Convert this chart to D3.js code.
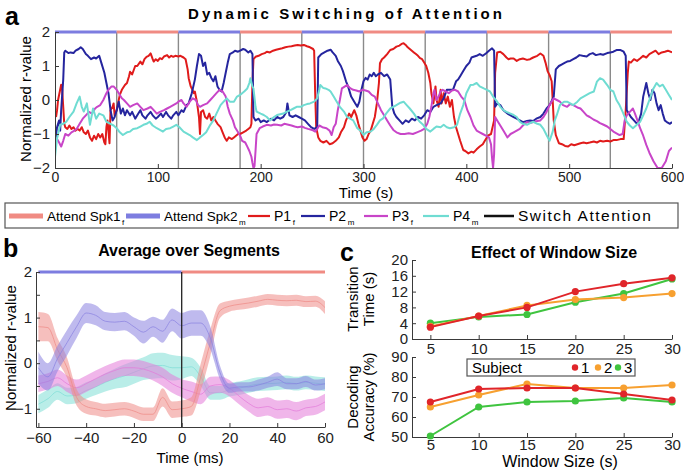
<!DOCTYPE html>
<html>
<head>
<meta charset="utf-8">
<script src="https://cdn.jsdelivr.net/npm/d3@7"></script>
<style>
  body { margin: 0; background: #fff; }
  svg { font-family: "Liberation Sans", Arial, Helvetica, sans-serif; }
</style>
</head>
<body>
<svg id="fig" width="684" height="470"></svg>
<script>
// ---------- Panel a: dynamic switching, r-values over time ----------
const switchTimes = [60, 120, 180, 240, 300, 360, 420, 480, 540];
const segStarts = [0, 60, 120, 180, 240, 300, 360, 420, 480, 540];
const segSpeaker = [2, 1, 2, 1, 2, 1, 2, 1, 2, 1];
const timeTicks = [0, 100, 200, 300, 400, 500, 600];
const rTicks = [-2, -1, 0, 1, 2];

const p1f = [[1,-0.5],[2,-0.3],[3,0.0],[5,0.3],[6,0.45],[7,0.3],[8,-0.2],[9,-0.7],[10,-0.8],[12,-0.85],[14,-0.75],[16,-0.85],[18,-0.8],[20,-0.9],[22,-0.85],[24,-0.9],[26,-0.8],[28,-0.95],[30,-1.0],[32,-0.9],[34,-1.1],[36,-1.2],[38,-1.05],[40,-1.15],[42,-1.0],[44,-1.1],[46,-1.0],[48,-1.25],[49,-1.3],[50,-0.8],[51,-0.6],[52,-0.9],[53,-1.27],[54,-0.3],[56,-0.2],[57,-0.1],[58,-0.45],[60,-0.3],[62,0.0],[63,0.15],[65,0.3],[68,0.44],[70,0.5],[72,0.7],[73,0.83],[75,0.75],[78,1.0],[80,1.0],[83,1.13],[85,1.05],[87,1.2],[89,1.27],[91,1.3],[93,1.37],[95,1.2],[96,1.13],[98,1.2],[100,1.15],[102,1.23],[104,1.2],[106,1.28],[109,1.32],[111,1.25],[113,1.3],[115,1.27],[117,1.3],[120,1.28],[122,1.3],[125,1.25],[127,1.2],[129,0.9],[130,0.64],[132,0.4],[133,0.34],[135,0.2],[136,0.25],[138,-0.05],[140,-0.5],[141,-1.0],[142,-0.35],[144,-0.3],[146,-0.5],[148,-0.55],[150,-0.4],[152,-0.6],[154,-0.5],[156,-0.6],[158,-0.7],[161,-0.8],[163,-0.95],[165,-1.1],[167,-1.2],[169,-1.1],[172,-1.15],[174,-1.1],[176,-1.05],[178,-1.0],[180,-1.0],[183,-0.95],[186,-0.9],[188,-0.85],[190,-0.8],[191,-0.7],[192,0.5],[193,1.2],[195,1.27],[198,1.3],[201,1.35],[204,1.38],[206,1.42],[209,1.4],[212,1.45],[215,1.48],[218,1.5],[221,1.52],[224,1.55],[227,1.57],[230,1.58],[233,1.6],[236,1.62],[239,1.6],[242,1.62],[245,1.58],[248,1.55],[251,1.5],[252,1.45],[253,0.2],[254,-0.8],[256,-1.1],[258,-1.2],[261,-1.25],[264,-1.2],[267,-1.3],[270,-1.27],[273,-1.2],[276,-1.1],[278,-0.95],[281,-0.8],[283,-0.6],[286,-0.4],[288,-0.5],[291,-0.3],[293,-0.45],[295,-0.7],[297,-0.9],[299,-1.1],[301,-1.2],[303,-1.15],[305,-1.0],[307,-0.9],[309,-0.7],[311,-0.5],[313,-0.1],[315,0.5],[316,1.08],[318,1.2],[320,1.25],[323,1.35],[326,1.47],[329,1.5],[332,1.57],[335,1.6],[337,1.65],[339,1.67],[341,1.62],[343,1.55],[345,1.5],[347,1.45],[349,1.4],[351,1.35],[353,1.3],[355,1.23],[357,1.2],[359,1.1],[361,1.0],[363,0.8],[365,0.5],[366,0.2],[368,-0.1],[370,0.4],[371,0.0],[373,-0.2],[375,0.3],[376,-0.1],[378,0.2],[380,-0.1],[382,0.1],[384,-0.2],[386,0.0],[388,-0.5],[390,-0.8],[392,-1.0],[394,-1.2],[397,-1.47],[399,-1.5],[402,-1.57],[405,-1.52],[407,-1.55],[410,-1.45],[413,-1.37],[416,-1.3],[418,-1.2],[421,-1.05],[424,-1.0],[427,-0.6],[428,0.8],[430,1.4],[433,1.42],[436,1.35],[439,1.25],[441,1.2],[443,1.22],[446,1.22],[449,1.15],[452,1.2],[455,1.22],[459,1.18],[462,1.2],[465,1.25],[469,1.3],[472,1.37],[475,1.3],[477,1.1],[479,0.85],[481,0.73],[483,0.55],[485,-0.6],[487,-1.03],[490,-1.27],[493,-1.3],[496,-1.35],[499,-1.37],[502,-1.3],[505,-1.33],[508,-1.3],[511,-1.27],[514,-1.25],[517,-1.27],[520,-1.25],[524,-1.22],[527,-1.25],[530,-1.2],[533,-1.22],[537,-1.2],[540,-1.22],[543,-1.18],[546,-1.18],[550,-1.15],[553,-1.15],[555,-0.3],[557,0.8],[558,1.13],[560,1.1],[563,1.2],[566,1.15],[569,1.22],[572,1.3],[575,1.25],[578,1.35],[581,1.4],[584,1.45],[587,1.35],[590,1.4],[593,1.42],[596,1.45],[600,1.4]];

const p2m = [[0,-1.3],[2,-0.8],[4,-0.6],[5,-0.9],[6,-0.3],[8,0.6],[9,1.4],[10,1.45],[13,1.38],[15,1.4],[18,1.38],[20,1.45],[23,1.5],[25,1.55],[27,1.5],[30,1.35],[32,1.3],[35,1.2],[38,1.25],[40,1.22],[43,1.3],[45,1.1],[48,0.8],[50,0.5],[52,0.2],[54,-0.3],[56,-0.6],[58,-0.5],[60,-0.3],[62,-0.05],[64,-0.4],[66,-0.25],[68,-0.45],[70,-0.3],[73,-0.45],[75,-0.35],[78,-0.55],[80,-0.45],[83,-0.3],[85,-0.45],[88,-0.55],[90,-0.45],[93,-0.35],[95,-0.45],[98,-0.55],[100,-0.5],[103,-0.4],[105,-0.5],[108,-0.35],[110,-0.45],[113,-0.55],[115,-0.45],[118,-0.35],[120,-0.45],[123,-0.3],[125,-0.35],[128,-0.15],[130,-0.1],[133,0.2],[136,0.6],[138,1.0],[140,1.35],[142,1.3],[144,1.0],[146,1.1],[148,0.75],[150,0.8],[152,0.65],[154,0.55],[156,0.7],[158,0.4],[160,0.3],[162,0.25],[164,0.5],[166,0.8],[168,1.1],[170,1.35],[173,1.4],[175,1.45],[178,1.42],[180,1.45],[183,1.5],[185,1.48],[188,1.4],[190,1.45],[192,1.35],[193,-0.5],[195,-0.6],[198,-0.55],[200,-0.65],[203,-0.6],[206,-0.65],[210,-0.55],[213,-0.6],[216,-0.5],[219,-0.55],[222,-0.5],[225,-0.35],[226,-0.1],[228,-0.45],[231,-0.5],[234,-0.45],[237,-0.5],[240,-0.55],[243,-0.6],[246,-0.7],[249,-0.8],[252,-0.85],[255,-0.8],[256,1.25],[259,1.35],[262,1.4],[265,1.45],[268,1.48],[270,1.4],[273,1.3],[275,1.15],[278,1.0],[280,0.85],[283,0.55],[285,0.4],[288,0.1],[290,0.0],[292,-0.1],[294,-0.2],[296,-0.05],[298,0.3],[300,0.55],[302,0.65],[304,0.6],[306,0.75],[308,0.7],[310,0.8],[312,0.7],[314,0.75],[317,0.8],[320,0.7],[323,0.75],[326,0.6],[328,-0.2],[330,-0.4],[332,-0.5],[335,-0.6],[338,-0.7],[341,-0.6],[344,-0.65],[347,-0.55],[350,-0.6],[353,-0.5],[356,-0.55],[359,-0.45],[362,-0.3],[365,-0.35],[368,-0.2],[371,-0.15],[375,-0.1],[378,0.05],[381,0.3],[384,0.3],[387,0.3],[390,0.55],[392,0.6],[394,0.7],[397,0.85],[400,1.0],[403,1.1],[405,1.25],[407,1.27],[410,1.3],[413,1.35],[416,1.3],[419,1.37],[422,1.45],[425,1.52],[427,1.45],[428,-0.2],[430,-0.1],[433,-0.15],[436,-0.3],[440,-0.4],[443,-0.45],[446,-0.5],[449,-0.55],[452,-0.6],[455,-0.65],[459,-0.62],[462,-0.6],[465,-0.62],[468,-0.55],[472,-0.5],[475,-0.4],[478,-0.25],[481,-0.15],[485,0.1],[487,0.9],[490,1.0],[493,1.05],[496,1.1],[498,1.13],[501,1.15],[504,1.2],[507,1.25],[510,1.32],[513,1.3],[517,1.28],[520,1.35],[523,1.38],[526,1.32],[530,1.35],[533,1.33],[537,1.38],[540,1.4],[543,1.42],[546,1.47],[550,1.47],[553,1.42],[555,1.3],[556,-0.3],[558,-0.4],[560,-0.5],[563,-0.6],[566,-0.7],[568,-0.6],[570,-0.4],[572,0.1],[575,0.5],[577,0.2],[579,0.0],[581,0.3],[583,0.2],[585,-0.1],[587,-0.3],[589,-0.15],[591,-0.4],[593,-0.6],[595,-0.65],[598,-0.7],[600,-0.65]];

const p3f = [[0,-1.1],[2,-1.15],[4,-1.25],[6,-1.37],[8,-1.2],[10,-1.0],[13,-1.05],[16,-0.95],[19,-0.9],[21,-0.85],[24,-0.7],[27,-0.55],[30,-0.45],[33,-0.35],[36,-0.4],[39,-0.25],[41,-0.2],[44,-0.15],[47,0.0],[50,0.2],[52,0.3],[55,0.4],[57,0.4],[60,0.3],[62,0.2],[65,0.05],[67,0.0],[70,-0.1],[73,-0.2],[76,-0.15],[80,-0.1],[83,-0.2],[86,-0.3],[90,-0.25],[93,-0.2],[96,-0.3],[99,-0.4],[102,-0.35],[106,-0.3],[109,-0.25],[112,-0.2],[115,-0.15],[118,-0.1],[120,-0.05],[123,0.0],[125,-0.1],[128,-0.2],[131,-0.05],[134,0.05],[137,0.0],[139,-0.15],[141,-0.2],[144,-0.15],[148,-0.1],[151,0.0],[154,0.1],[157,0.2],[160,0.3],[163,0.25],[166,0.1],[168,-0.2],[170,-0.4],[173,-0.6],[175,-0.8],[177,-0.9],[180,-1.05],[182,-1.2],[185,-1.25],[187,-1.37],[189,-1.5],[191,-1.67],[192,-1.85],[193,-2.0],[194,-1.95],[195,-1.5],[196,-1.0],[199,-0.83],[202,-0.78],[206,-0.73],[210,-0.75],[213,-0.72],[216,-0.73],[220,-0.75],[223,-0.7],[226,-0.72],[230,-0.75],[233,-0.78],[236,-0.8],[240,-0.78],[243,-0.82],[246,-0.85],[250,-0.88],[253,-0.93],[255,-0.85],[257,-0.75],[260,-0.8],[264,-0.83],[267,-0.9],[269,-1.03],[271,-0.8],[273,-0.7],[275,-0.3],[277,0.0],[279,0.34],[282,0.4],[284,0.44],[287,0.35],[290,0.3],[293,0.28],[296,0.25],[299,0.3],[302,0.28],[305,0.25],[308,0.15],[311,0.1],[314,-0.1],[317,-0.3],[320,-0.45],[323,-0.6],[326,-0.75],[329,-0.88],[332,-0.95],[336,-1.0],[340,-1.0],[344,-0.98],[348,-1.0],[352,-0.95],[356,-0.9],[359,-0.85],[362,-0.7],[364,-0.5],[366,-0.2],[368,0.2],[369,0.3],[371,0.0],[373,0.1],[375,0.25],[377,0.3],[380,0.25],[383,0.2],[386,0.28],[389,0.3],[392,0.25],[395,0.1],[398,0.0],[401,-0.3],[404,-0.5],[407,-0.75],[410,-0.9],[413,-0.95],[416,-1.0],[419,-1.05],[422,-1.1],[424,-1.3],[425,-1.7],[426,-2.0],[427,-1.6],[428,-0.5],[430,-0.6],[433,-0.75],[436,-0.9],[440,-1.1],[443,-1.0],[446,-0.95],[449,-0.9],[452,-0.85],[455,-0.75],[459,-0.65],[462,-0.68],[465,-0.65],[469,-0.62],[472,-0.6],[475,-0.5],[478,-0.35],[481,-0.15],[485,0.05],[488,0.0],[491,-0.05],[494,-0.15],[498,-0.2],[501,-0.12],[504,-0.15],[508,-0.22],[511,-0.25],[514,-0.35],[517,-0.45],[520,-0.5],[524,-0.58],[527,-0.62],[530,-0.68],[533,-0.72],[537,-0.78],[540,-0.85],[543,-0.93],[546,-0.98],[549,-1.03],[552,-1.0],[554,-0.6],[556,-0.45],[559,-0.35],[562,-0.25],[564,-0.4],[567,-0.65],[569,-0.83],[572,-1.05],[575,-1.32],[578,-1.55],[582,-1.8],[586,-2.0],[590,-2.0],[594,-1.8],[597,-1.5],[600,-1.4]];

const p4m = [[0,-1.67],[2,-1.13],[5,-0.73],[8,-0.7],[11,-0.64],[14,-0.5],[18,-0.34],[21,-0.1],[24,0.1],[26,-0.2],[28,-0.34],[31,-0.1],[34,-0.73],[37,-0.25],[40,-0.55],[43,-0.4],[47,-0.45],[50,-0.64],[54,-0.7],[57,-0.75],[60,-0.83],[63,-0.95],[66,-1.03],[70,-0.95],[73,-0.93],[76,-0.85],[80,-0.83],[83,-0.78],[86,-0.73],[89,-0.7],[92,-0.64],[95,-0.75],[99,-0.83],[102,-0.88],[105,-0.93],[108,-0.85],[112,-0.83],[115,-0.78],[118,-0.73],[121,-0.8],[125,-0.93],[128,-0.98],[131,-1.03],[134,-1.1],[138,-1.18],[141,-1.1],[144,-1.03],[147,-0.95],[151,-0.73],[154,-0.6],[157,-0.4],[161,-0.15],[164,-0.05],[167,0.05],[170,-0.05],[174,-0.05],[177,0.1],[180,0.15],[184,0.25],[187,0.34],[189,0.5],[190,0.64],[192,0.4],[193,0.34],[195,-0.2],[196,-0.34],[200,-0.4],[203,-0.44],[206,-0.5],[209,-0.6],[213,-0.5],[216,-0.44],[219,-0.42],[222,-0.4],[225,-0.35],[229,-0.3],[232,-0.25],[235,-0.2],[239,-0.2],[242,-0.15],[245,-0.12],[248,-0.1],[252,-0.05],[255,0.05],[257,0.3],[258,0.44],[261,0.35],[263,0.34],[266,0.3],[268,0.25],[271,0.1],[274,-0.05],[277,-0.2],[281,-0.34],[284,-0.5],[287,-0.55],[290,-0.6],[294,-0.83],[297,-0.9],[300,-1.03],[303,-0.95],[307,-0.93],[310,-0.85],[313,-0.73],[316,-0.6],[319,-0.54],[322,-0.4],[326,-0.25],[329,-0.2],[332,-0.15],[336,-0.08],[339,-0.05],[342,-0.15],[345,-0.25],[349,-0.4],[352,-0.54],[355,-0.65],[358,-0.73],[361,-0.85],[365,-0.93],[368,-0.85],[371,-0.78],[375,-0.8],[378,-0.73],[381,-0.8],[384,-0.83],[388,-0.8],[391,-0.73],[394,-0.4],[397,-0.15],[400,0.2],[404,0.44],[407,0.45],[410,0.5],[413,0.4],[417,0.34],[420,0.3],[423,0.25],[426,0.1],[430,-0.05],[433,-0.2],[436,-0.3],[439,-0.35],[443,-0.4],[446,-0.44],[449,-0.5],[452,-0.64],[455,-0.7],[459,-0.73],[462,-0.68],[465,-0.64],[469,-0.7],[472,-0.73],[475,-0.85],[478,-1.03],[481,-1.2],[484,-0.93],[486,-0.6],[488,-0.44],[491,-0.15],[495,-0.05],[498,-0.05],[501,-0.1],[504,-0.15],[508,-0.05],[511,0.05],[514,0.1],[517,0.15],[520,0.2],[524,0.25],[527,0.54],[530,0.64],[533,0.6],[537,0.44],[540,0.3],[543,0.25],[546,0.0],[549,-0.15],[552,-0.35],[556,-0.64],[559,-0.75],[562,-0.83],[565,-0.75],[569,-0.64],[572,-0.45],[575,-0.25],[578,0.0],[582,0.34],[585,0.5],[588,0.4],[591,0.45],[594,0.3],[597,0.15],[600,0.0]];

// ---------- Panel b: average over segments (mean +/- error) ----------
const bTime = [-60,-56,-52,-48,-44,-40,-36,-32,-28,-24,-20,-16,-12,-8,-4,0,4,8,12,16,20,24,28,32,36,40,44,48,52,56,60];
const bTicksX = [-60, -40, -20, 0, 20, 40, 60];
const bTicksY = [-1, -0.5, 0, 0.5, 1, 1.5, 2];
const bP1Mean = [0.8,0.78,0.3,-0.1,-0.75,-0.95,-1.0,-1.04,-1.02,-1.0,-1.05,-1.12,-1.12,-0.75,-1.02,-1.0,-0.95,-0.3,0.45,1.15,1.25,1.29,1.32,1.36,1.4,1.38,1.37,1.38,1.35,1.36,1.22];
const bP1Err  = [0.32,0.3,0.25,0.22,0.18,0.16,0.15,0.15,0.15,0.15,0.15,0.15,0.15,0.2,0.18,0.18,0.2,0.3,0.3,0.16,0.12,0.12,0.12,0.12,0.12,0.12,0.12,0.12,0.12,0.12,0.14];
const bP2Mean = [-0.1,-0.3,0.1,0.45,0.8,1.1,1.05,0.92,0.9,0.92,0.8,0.68,0.8,0.7,0.95,0.82,0.88,0.88,0.55,-0.2,-0.55,-0.52,-0.52,-0.48,-0.42,-0.35,-0.45,-0.45,-0.4,-0.48,-0.45];
const bP2Err  = [0.35,0.3,0.28,0.28,0.25,0.22,0.22,0.2,0.2,0.2,0.2,0.25,0.22,0.25,0.25,0.28,0.28,0.28,0.25,0.15,0.1,0.1,0.1,0.12,0.12,0.15,0.12,0.12,0.12,0.12,0.12];
const bP3Mean = [-0.45,-0.4,-0.32,-0.45,-0.54,-0.45,-0.34,-0.24,-0.16,-0.1,-0.1,-0.13,-0.2,-0.3,-0.45,-0.55,-0.62,-0.68,-0.5,-0.47,-0.55,-0.72,-0.88,-0.98,-0.95,-1.02,-1.0,-1.05,-0.98,-0.95,-0.85];
const bP3Err  = [0.18,0.18,0.18,0.18,0.18,0.18,0.18,0.18,0.18,0.18,0.18,0.18,0.18,0.2,0.2,0.2,0.22,0.22,0.2,0.18,0.18,0.18,0.18,0.2,0.2,0.2,0.2,0.2,0.18,0.18,0.18];
const bP4Mean = [-0.9,-0.78,-0.62,-0.72,-0.7,-0.6,-0.52,-0.42,-0.34,-0.28,-0.2,-0.12,-0.06,-0.05,-0.1,-0.1,-0.08,-0.3,-0.65,-0.65,-0.58,-0.55,-0.5,-0.46,-0.45,-0.44,-0.42,-0.45,-0.42,-0.44,-0.46];
const bP4Err  = [0.2,0.2,0.18,0.18,0.18,0.18,0.18,0.2,0.22,0.25,0.25,0.25,0.28,0.28,0.28,0.25,0.2,0.2,0.15,0.15,0.15,0.15,0.15,0.15,0.15,0.15,0.15,0.15,0.15,0.15,0.15];

// ---------- Panel c: effect of window size ----------
const winSizes = [5, 10, 15, 20, 25, 30];
const transS1 = [3.0, 5.8, 8.0, 12.0, 14.0, 15.5];
const transS2 = [3.2, 5.8, 8.5, 10.0, 10.5, 11.5];
const transS3 = [4.0, 5.6, 6.2, 9.3, 11.5, 15.2];
const accS1 = [67.5, 74.0, 74.5, 74.5, 71.5, 68.5];
const accS2 = [65.0, 71.0, 76.5, 74.5, 74.5, 76.0];
const accS3 = [50.5, 65.0, 67.5, 68.0, 69.5, 67.5];
const transTicks = [0, 4, 8, 12, 16, 20];
const accTicks = [50, 60, 70, 80, 90];
const subjects = ["1", "2", "3"];

// colours
const cP1 = "#e01b1b", cP2 = "#25259e", cP3 = "#c845c8", cP4 = "#6fdcd2";
const cSpk1 = "#f08b83", cSpk2 = "#7d7de0";
const bandP1 = "#ee8a86", bandP2 = "#8a82e0", bandP3 = "#e37ad9", bandP4 = "#7fded6";
const subjColors = ["#e0252a", "#f7a030", "#3fc43f"];
const axisColor = "#3a3a3a";

const svg = d3.select("#fig");
const intFmt = d3.format("d");

function styleAxis(g, fs) {
  g.selectAll(".domain").attr("stroke", axisColor).attr("stroke-width", 1);
  g.selectAll(".tick line").attr("stroke", axisColor);
  g.selectAll(".tick text").attr("font-size", fs).attr("fill", "#222")
    .attr("font-family", "'Liberation Sans', Arial, sans-serif");
}

// ===== Panel a =====
const xA = d3.scaleLinear().domain([0, 600]).range([55, 672]);
const yA = d3.scaleLinear().domain([-2, 2]).range([168, 32]);
const gA = svg.append("g");

gA.append("defs").append("clipPath").attr("id", "clipA")
  .append("rect").attr("x", xA(0)).attr("y", yA(2) - 2)
  .attr("width", xA(600) - xA(0)).attr("height", yA(-2) - yA(2) + 2);

// switch markers
gA.selectAll("line.sw").data(switchTimes).enter().append("line")
  .attr("x1", d => xA(d)).attr("x2", d => xA(d))
  .attr("y1", yA(2)).attr("y2", yA(-2))
  .attr("stroke", "#8a8a8a").attr("stroke-width", 1.4);

const lineA = d3.line().x(d => xA(d[0])).y(d => yA(d[1]));
const seriesA = [[p1f, cP1], [p2m, cP2], [p3f, cP3], [p4m, cP4]];
const linesA = gA.append("g").attr("clip-path", "url(#clipA)");
seriesA.forEach(([data, col]) => {
  linesA.append("path").datum(data).attr("d", lineA)
    .attr("fill", "none").attr("stroke", col).attr("stroke-width", 2)
    .attr("stroke-linejoin", "round");
});

// attended speaker bar along the top
gA.selectAll("line.seg").data(segStarts).enter().append("line")
  .attr("x1", d => xA(d)).attr("x2", d => xA(d + 60))
  .attr("y1", yA(2)).attr("y2", yA(2))
  .attr("stroke", (d, i) => segSpeaker[i] === 1 ? cSpk1 : cSpk2)
  .attr("stroke-width", 3);

gA.append("g").attr("transform", `translate(0,${yA(-2)})`)
  .call(d3.axisBottom(xA).tickValues(timeTicks).tickFormat(intFmt).tickSizeInner(-4).tickSizeOuter(0).tickPadding(4))
  .call(g => styleAxis(g, 14));
gA.append("g").attr("transform", `translate(${xA(0)},0)`)
  .call(d3.axisLeft(yA).tickValues(rTicks).tickFormat(intFmt).tickSizeInner(-4).tickSizeOuter(0).tickPadding(5))
  .call(g => styleAxis(g, 15));

svg.append("text").attr("x", 345).attr("y", 19).attr("text-anchor", "middle")
  .attr("font-size", 15).attr("font-weight", "bold")
  .attr("textLength", 314).attr("lengthAdjust", "spacing")
  .text("Dynamic Switching of Attention");
svg.append("text").attr("x", 5).attr("y", 25).attr("font-size", 25).attr("font-weight", "bold").text("a");
svg.append("text").attr("transform", "translate(31,99) rotate(-90)").attr("text-anchor", "middle")
  .attr("font-size", 15).text("Normalized r-value");
svg.append("text").attr("x", 366).attr("y", 198).attr("text-anchor", "middle")
  .attr("font-size", 15).text("Time (s)");

// ===== Legend =====
const leg = svg.append("g");
leg.append("rect").attr("x", 5).attr("y", 203).attr("width", 673).attr("height", 25)
  .attr("fill", "#fff").attr("stroke", "#555").attr("stroke-width", 1.2);
const legItems = [
  { x: 9,   len: 34, col: cSpk1, w: 5,   label: "Attend Spk1", sub: "f", fs: 13.5, ls: 0 },
  { x: 126, len: 34, col: cSpk2, w: 5,   label: "Attend Spk2", sub: "m", fs: 13.5, ls: 0 },
  { x: 248, len: 22, col: cP1,   w: 2.2, label: "P1", sub: "f", fs: 14, ls: 0 },
  { x: 301, len: 24, col: cP2,   w: 2.2, label: "P2", sub: "m", fs: 14, ls: 0 },
  { x: 364, len: 24, col: cP3,   w: 2.2, label: "P3", sub: "f", fs: 14, ls: 0 },
  { x: 423, len: 26, col: cP4,   w: 2.2, label: "P4", sub: "m", fs: 14, ls: 0 },
  { x: 484, len: 30, col: "#111", w: 2.5, label: "Switch Attention", sub: "", fs: 15.5, ls: 1.5 }
];
legItems.forEach(it => {
  leg.append("line").attr("x1", it.x).attr("x2", it.x + it.len)
    .attr("y1", 216).attr("y2", 216).attr("stroke", it.col).attr("stroke-width", it.w);
  const tx = it.x + it.len + 4;
  const t = leg.append("text").attr("x", tx).attr("y", 221).attr("font-size", it.fs)
    .style("letter-spacing", it.ls + "px").text(it.label);
  if (it.sub) {
    const w = t.node().getComputedTextLength();
    leg.append("text").attr("x", tx + w + 1.5).attr("y", 225).attr("font-size", 8).text(it.sub);
  }
});

// ===== Panel b =====
const xB = d3.scaleLinear().domain([-61, 60]).range([36, 325]);
const yB = d3.scaleLinear().domain([-1.4, 2]).range([427, 272]);
const gB = svg.append("g");

const bandSeries = [
  [bP4Mean, bP4Err, bandP4],
  [bP3Mean, bP3Err, bandP3],
  [bP1Mean, bP1Err, bandP1],
  [bP2Mean, bP2Err, bandP2]
];
bandSeries.forEach(([m, e, col]) => {
  const rows = bTime.map((t, i) => ({ t, m: m[i], e: e[i] }));
  gB.append("path").datum(rows)
    .attr("d", d3.area().x(d => xB(d.t)).y0(d => yB(d.m - d.e)).y1(d => yB(d.m + d.e)).curve(d3.curveMonotoneX))
    .attr("fill", col).attr("fill-opacity", 0.55);
  gB.append("path").datum(rows)
    .attr("d", d3.line().x(d => xB(d.t)).y(d => yB(d.m)).curve(d3.curveMonotoneX))
    .attr("fill", "none").attr("stroke", col).attr("stroke-width", 0.8).attr("stroke-opacity", 0.9);
});

gB.append("line").attr("x1", xB(-60)).attr("x2", xB(0)).attr("y1", yB(2)).attr("y2", yB(2))
  .attr("stroke", cSpk2).attr("stroke-width", 3);
gB.append("line").attr("x1", xB(0)).attr("x2", xB(60)).attr("y1", yB(2)).attr("y2", yB(2))
  .attr("stroke", cSpk1).attr("stroke-width", 3);
gB.append("line").attr("x1", xB(0)).attr("x2", xB(0)).attr("y1", yB(2)).attr("y2", yB(-1.4))
  .attr("stroke", "#222").attr("stroke-width", 1.3);

gB.append("g").attr("transform", `translate(0,${yB(-1.4)})`)
  .call(d3.axisBottom(xB).tickValues(bTicksX).tickFormat(intFmt).tickSizeInner(-4).tickSizeOuter(0).tickPadding(5))
  .call(g => styleAxis(g, 15));
gB.append("g").attr("transform", `translate(${xB(-61)},0)`)
  .call(d3.axisLeft(yB).tickValues(bTicksY).tickSizeInner(-4).tickSizeOuter(0).tickPadding(4)
    .tickFormat(d => Number.isInteger(d) ? intFmt(d) : ""))
  .call(g => styleAxis(g, 15));

svg.append("text").attr("x", 189).attr("y", 256).attr("text-anchor", "middle")
  .attr("font-size", 16).attr("font-weight", "bold").text("Average over Segments");
svg.append("text").attr("x", 3).attr("y", 257).attr("font-size", 25).attr("font-weight", "bold").text("b");
svg.append("text").attr("transform", "translate(16,348) rotate(-90)").attr("text-anchor", "middle")
  .attr("font-size", 15).text("Normalized r-value");
svg.append("text").attr("x", 190).attr("y", 463).attr("text-anchor", "middle")
  .attr("font-size", 15).text("Time (ms)");

// ===== Panel c =====
const xC = d3.scaleLinear().domain([3.1, 30]).range([412, 672]);
const yT = d3.scaleLinear().domain([0, 20]).range([339, 260]);
const yAcc = d3.scaleLinear().domain([50, 90]).range([437, 357]);
const gC = svg.append("g");

gC.append("g").attr("transform", `translate(0,${yT(0)})`)
  .call(d3.axisBottom(xC).tickValues(winSizes).tickFormat(intFmt).tickSizeInner(-4).tickSizeOuter(0).tickPadding(4))
  .call(g => styleAxis(g, 15));
gC.append("g").attr("transform", `translate(${xC(3.1)},0)`)
  .call(d3.axisLeft(yT).tickValues(transTicks).tickFormat(intFmt).tickSizeInner(-4).tickSizeOuter(0).tickPadding(4))
  .call(g => styleAxis(g, 15));
gC.append("g").attr("transform", `translate(0,${yAcc(50)})`)
  .call(d3.axisBottom(xC).tickValues(winSizes).tickFormat(intFmt).tickSizeInner(-4).tickSizeOuter(0).tickPadding(2))
  .call(g => styleAxis(g, 15));
gC.append("g").attr("transform", `translate(${xC(3.1)},0)`)
  .call(d3.axisLeft(yAcc).tickValues(accTicks).tickFormat(intFmt).tickSizeInner(-4).tickSizeOuter(0).tickPadding(4))
  .call(g => styleAxis(g, 15));

function drawSubject(vals, yScale, col) {
  const pts = winSizes.map((w, i) => [w, vals[i]]);
  gC.append("path").datum(pts)
    .attr("d", d3.line().x(d => xC(d[0])).y(d => yScale(d[1])))
    .attr("fill", "none").attr("stroke", col).attr("stroke-width", 2);
  gC.selectAll(null).data(pts).enter().append("circle")
    .attr("cx", d => xC(d[0])).attr("cy", d => yScale(d[1])).attr("r", 3.6).attr("fill", col);
}
[[transS3, 2], [transS2, 1], [transS1, 0]].forEach(([v, i]) => drawSubject(v, yT, subjColors[i]));
[[accS3, 2], [accS2, 1], [accS1, 0]].forEach(([v, i]) => drawSubject(v, yAcc, subjColors[i]));

// subject legend
const lc = gC.append("g");
lc.append("rect").attr("x", 467).attr("y", 359).attr("width", 168).attr("height", 17)
  .attr("fill", "#fff").attr("stroke", "#555").attr("stroke-width", 1.2);
lc.append("text").attr("x", 472).attr("y", 373).attr("font-size", 15).text("Subject");
const legDotX = [575, 598, 618];
subjects.forEach((s, i) => {
  lc.append("circle").attr("cx", legDotX[i]).attr("cy", 367.5).attr("r", 3.2).attr("fill", subjColors[i]);
  lc.append("text").attr("x", legDotX[i] + 6).attr("y", 373).attr("font-size", 15).text(s);
});

svg.append("text").attr("x", 554).attr("y", 258).attr("text-anchor", "middle")
  .attr("font-size", 16).attr("font-weight", "bold").text("Effect of Window Size");
svg.append("text").attr("x", 340).attr("y", 261).attr("font-size", 25).attr("font-weight", "bold").text("c");
svg.append("text").attr("transform", "translate(358,299) rotate(-90)").attr("text-anchor", "middle")
  .attr("font-size", 15).text("Transition");
svg.append("text").attr("transform", "translate(374,299) rotate(-90)").attr("text-anchor", "middle")
  .attr("font-size", 15).text("Time (s)");
svg.append("text").attr("transform", "translate(358,397) rotate(-90)").attr("text-anchor", "middle")
  .attr("font-size", 15).text("Decoding");
svg.append("text").attr("transform", "translate(374,397) rotate(-90)").attr("text-anchor", "middle")
  .attr("font-size", 15).text("Accuracy (%)");
svg.append("text").attr("x", 560).attr("y", 467).attr("text-anchor", "middle")
  .attr("font-size", 16).text("Window Size (s)");
</script>
</body>
</html>
